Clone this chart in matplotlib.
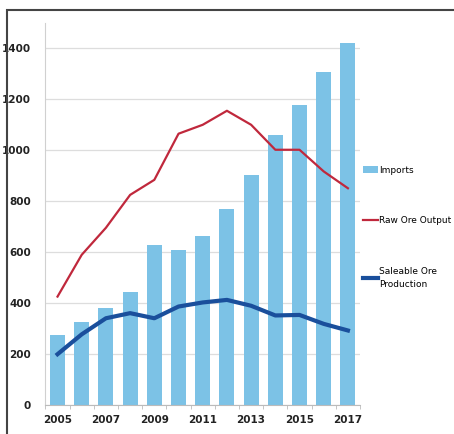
import numpy as np
import matplotlib
matplotlib.use("Agg")
import matplotlib.pyplot as plt
from matplotlib.patches import Rectangle

# values
years = [2005, 2006, 2007, 2008, 2009, 2010, 2011, 2012, 2013, 2014, 2015, 2016, 2017]
imports = [275, 324, 382, 444, 628, 606, 662, 769, 903, 1060, 1176, 1307, 1421]
raw_ore = [425, 589, 695, 824, 883, 1064, 1099, 1154, 1099, 1001, 1001, 916, 850]
saleable = [199, 277, 340, 360, 340, 386, 402, 412, 389, 351, 353, 318, 292]

bar_col = "#7cc2e6"
red_col = "#c0283c"
blue_col = "#1a4f9c"

fig = plt.figure(figsize=(4.54, 4.34), dpi=100)
ax = fig.add_axes([0.099, 0.067, 0.694, 0.881])

x = np.arange(len(years))
b = ax.bar(x, imports, width=0.62, color=bar_col, label="Imports", zorder=2)
l1, = ax.plot(x, raw_ore, color=red_col, lw=1.6, label="Raw Ore Output", zorder=3)
l2, = ax.plot(x, saleable, color=blue_col, lw=3.0, label="Saleable Ore\nProduction", zorder=4)

ax.set_xlim(-0.52, 12.45)
ax.set_ylim(0, 1500)
ax.set_yticks(np.arange(0, 1401, 200))
ax.grid(axis="y", color="#dddddd", lw=0.9, zorder=0)

# year labels every other year, ticks on category boundaries
ax.set_xticks(x[::2])
ax.set_xticklabels([str(y) for y in years[::2]])
ax.set_xticks(np.arange(-0.5, len(years), 1), minor=True)
ax.tick_params(axis="x", which="major", length=0, pad=7)
ax.tick_params(axis="x", which="minor", length=3, color="#bbbbbb")
ax.tick_params(axis="y", length=0, pad=10)
for lab in ax.get_xticklabels() + ax.get_yticklabels():
    lab.set_fontsize(7.5)
    lab.set_fontweight("bold")
    lab.set_color("#222222")

for s in ["top", "right"]:
    ax.spines[s].set_visible(False)
ax.spines["left"].set_color("#d0d0d0")
ax.spines["bottom"].set_color("#bbbbbb")

leg = fig.legend([b, l1, l2], [b.get_label(), l1.get_label(), l2.get_label()],
                 loc="upper left", bbox_to_anchor=(0.8, 0.618), frameon=False,
                 fontsize=6.5, labelspacing=4.6, handlelength=1.6, handletextpad=0.2,
                 borderaxespad=0, borderpad=0)
for t in leg.get_texts():
    t.set_linespacing(1.6)

# frame around the picture
fig.patches.append(Rectangle((0.016, -0.05), 1.2, 1.027, transform=fig.transFigure,
                             fill=False, edgecolor="#444444", lw=1.5))

fig.savefig("out.png", dpi=100)
